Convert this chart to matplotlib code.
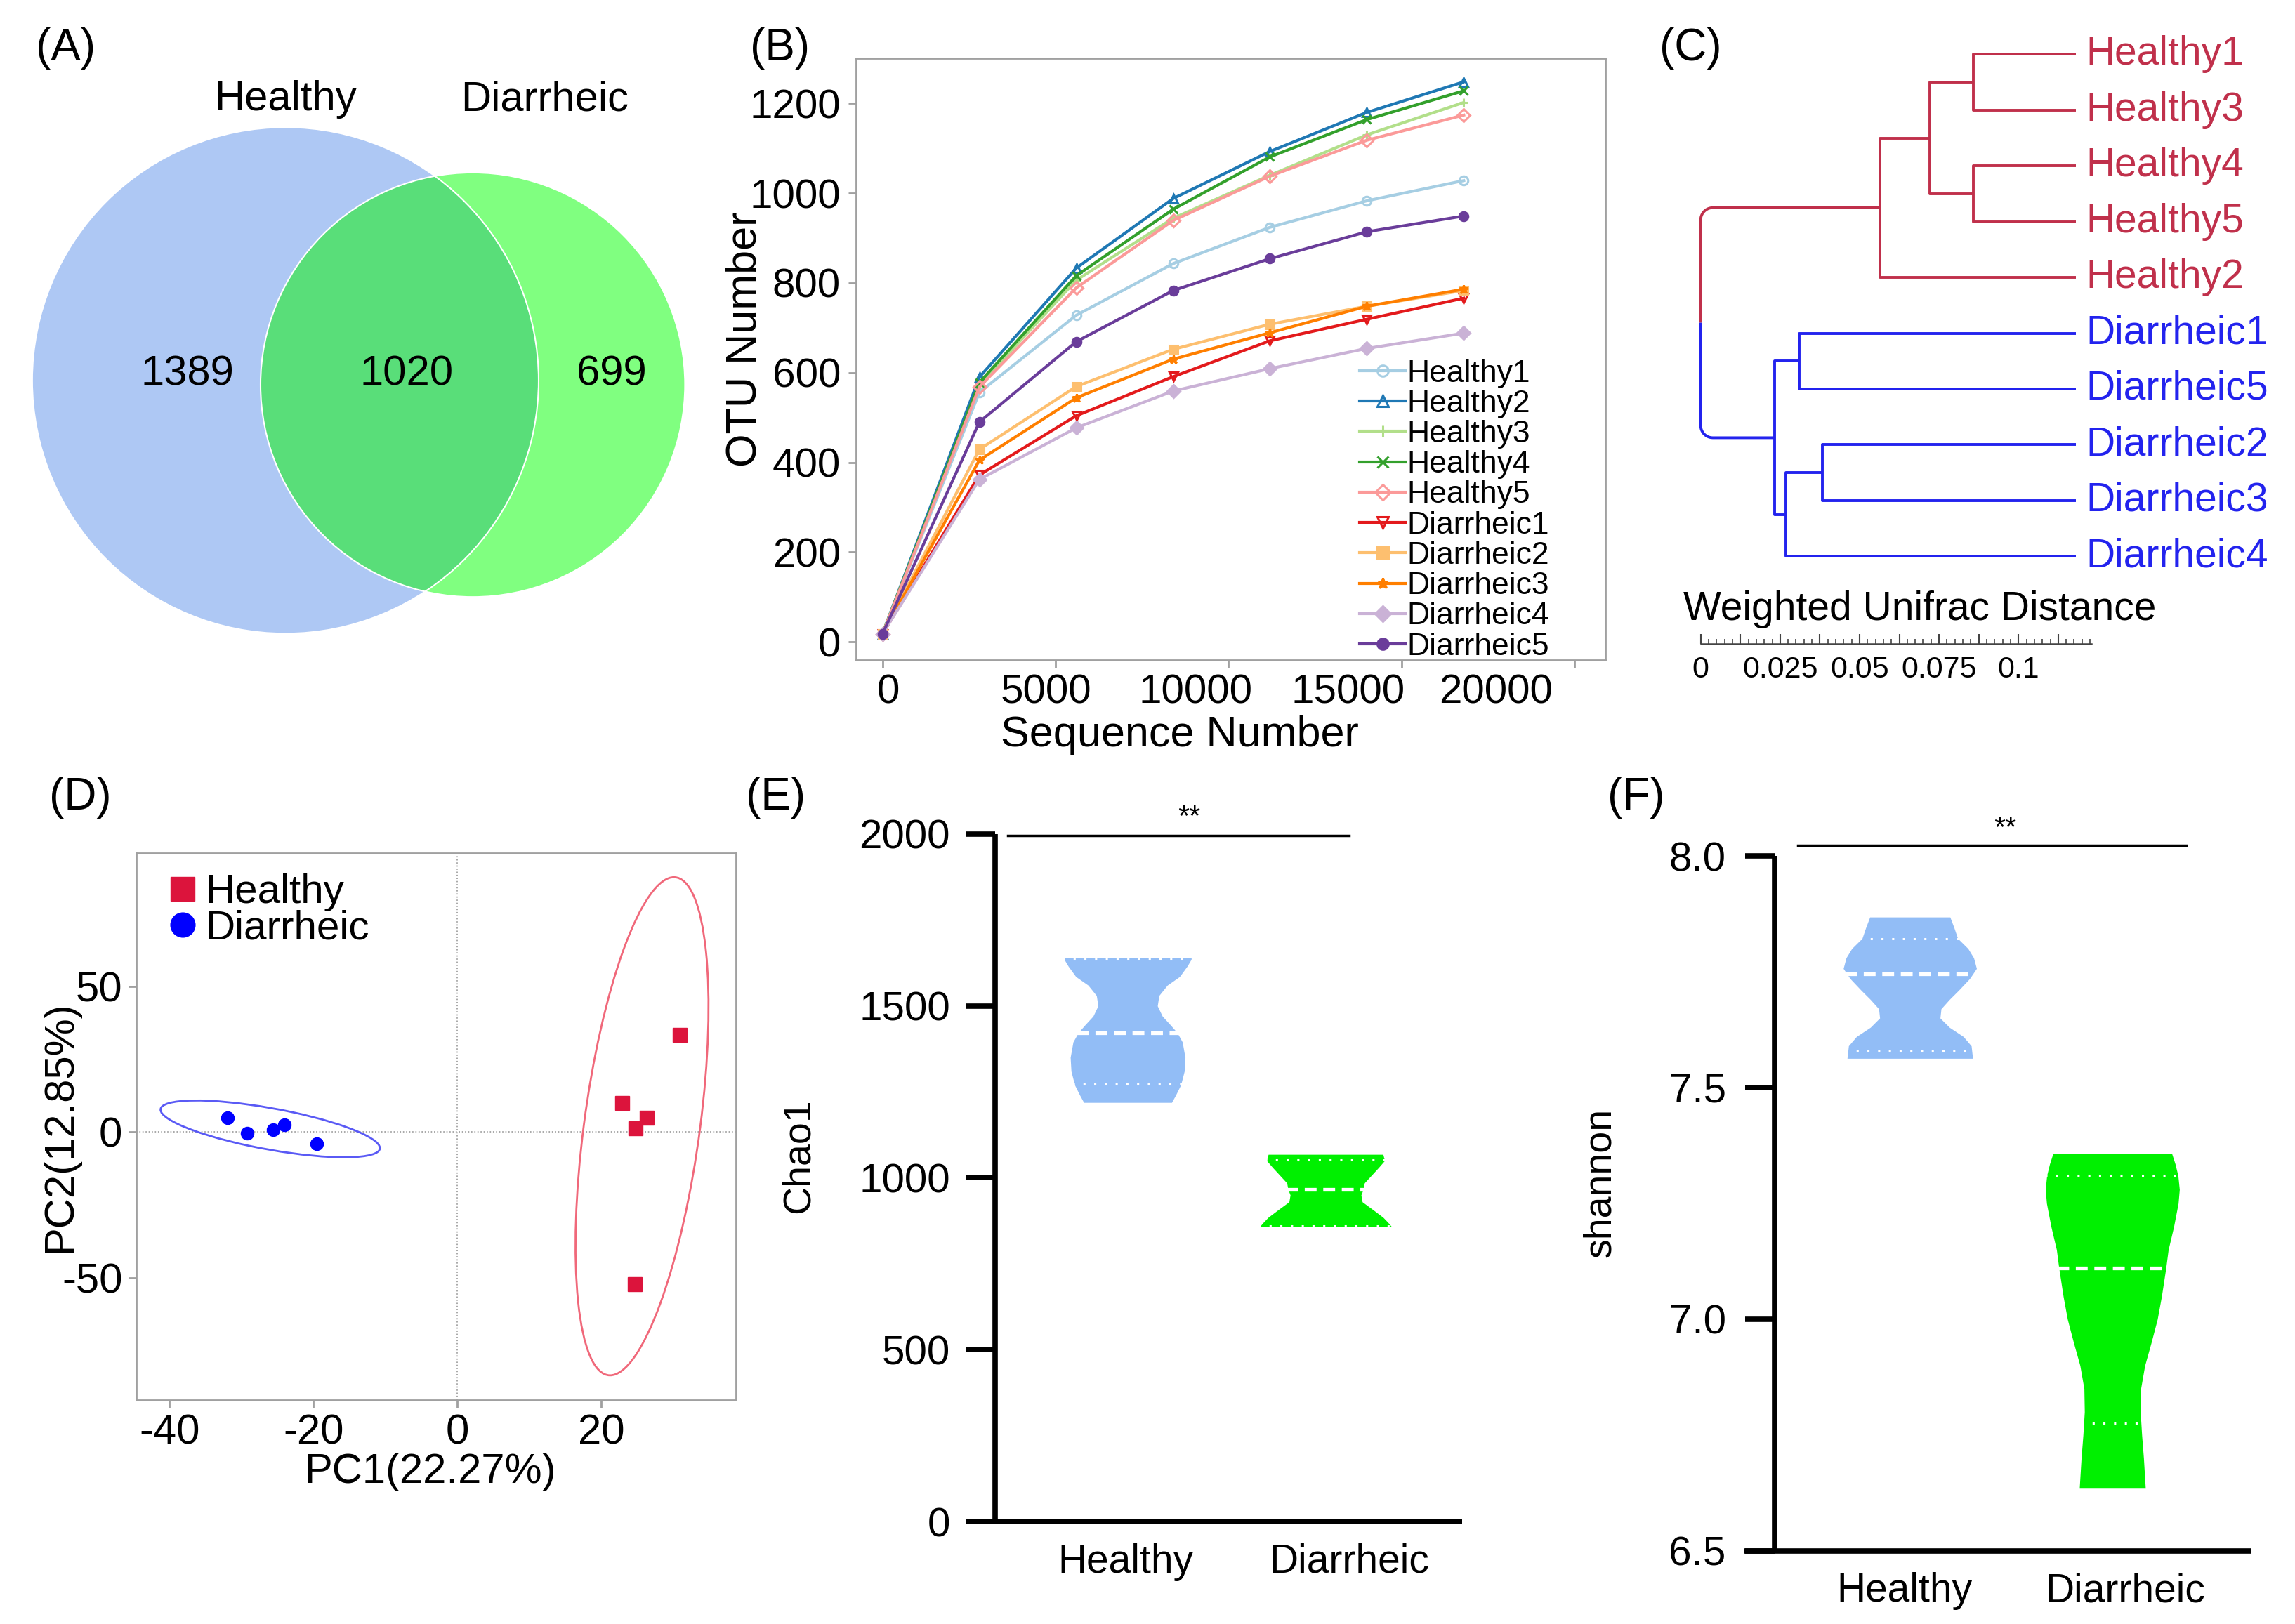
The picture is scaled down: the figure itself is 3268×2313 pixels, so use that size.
import matplotlib
matplotlib.use('Agg')
import matplotlib.pyplot as plt
import matplotlib.transforms as mtransforms
import numpy as np
from matplotlib.patches import Circle, Ellipse
from matplotlib.lines import Line2D
from matplotlib.ticker import FixedLocator

plt.rcParams['font.family'] = ['Liberation Sans', 'DejaVu Sans']
plt.rcParams['axes.unicode_minus'] = False

# ---------------- data ----------------
# (A) venn
venn_sets = ['Healthy', 'Diarrheic']
venn_counts = [1389, 1020, 699]   # only healthy, shared, only diarrheic

# (B) rarefaction curves
seq_number = [0, 2800, 5600, 8400, 11200, 14000, 16800]
otu_healthy1 = [18, 556, 728, 843, 924, 983, 1028]
otu_healthy2 = [18, 590, 833, 988, 1093, 1180, 1248]
otu_healthy3 = [18, 573, 806, 944, 1040, 1130, 1202]
otu_healthy4 = [18, 578, 816, 964, 1081, 1164, 1228]
otu_healthy5 = [18, 568, 789, 939, 1038, 1118, 1174]
otu_diarrheic1 = [18, 372, 504, 591, 671, 719, 766]
otu_diarrheic2 = [18, 429, 569, 652, 708, 748, 783]
otu_diarrheic3 = [18, 405, 544, 630, 689, 748, 786]
otu_diarrheic4 = [18, 362, 477, 559, 609, 654, 688]
otu_diarrheic5 = [18, 490, 669, 783, 854, 914, 949]
curve_names = ['Healthy1', 'Healthy2', 'Healthy3', 'Healthy4', 'Healthy5',
               'Diarrheic1', 'Diarrheic2', 'Diarrheic3', 'Diarrheic4', 'Diarrheic5']
curve_values = [otu_healthy1, otu_healthy2, otu_healthy3, otu_healthy4, otu_healthy5,
                otu_diarrheic1, otu_diarrheic2, otu_diarrheic3, otu_diarrheic4, otu_diarrheic5]
curve_colors = ['#a6cee3', '#1f78b4', '#b2df8a', '#33a02c', '#fb9a99',
                '#e31a1c', '#fdbf6f', '#ff7f00', '#cab2d6', '#6a3d9a']
curve_markers = ['o', '^', '+', 'x', 'D', 'v', 's', '*', 'D', 'o']
curve_filled = [False, False, True, True, False, False, True, True, True, True]
seq_ticklabels = ['0', '5000', '10000', '15000', '20000']

# (C) weighted unifrac tree (depth measured from the root)
leaf_order = ['Healthy1', 'Healthy3', 'Healthy4', 'Healthy5', 'Healthy2',
              'Diarrheic1', 'Diarrheic5', 'Diarrheic2', 'Diarrheic3', 'Diarrheic4']
leaf_depth = 0.118
merges = [('Healthy1', 'Healthy3', 0.0857),
          ('Healthy4', 'Healthy5', 0.0857),
          ('n0', 'n1', 0.0720),
          ('n2', 'Healthy2', 0.0564),
          ('Diarrheic1', 'Diarrheic5', 0.0310),
          ('Diarrheic2', 'Diarrheic3', 0.0384),
          ('n5', 'Diarrheic4', 0.0267),
          ('n4', 'n6', 0.0232),
          ('n3', 'n7', 0.0)]

# (D) PCoA
pc1_healthy = [31.0, 22.9, 26.4, 24.8, 24.7]
pc2_healthy = [33.4, 10.0, 4.8, 1.3, -52.3]
pc1_diarrheic = [-31.9, -29.2, -25.6, -24.0, -19.5]
pc2_diarrheic = [4.8, -0.5, 0.8, 2.4, -4.0]
# confidence ellipses: centre x, centre y, semi major, semi minor, angle
ellipse_healthy = [25.7, 2.0, 85.6, 8.1, 87.0]
ellipse_diarrheic = [-26.0, 1.1, 16.9, 6.5, -27.8]

# (E) chao1 violin outlines (value, half width)
chao_h_vals = [1219, 1240, 1270, 1310, 1350, 1395, 1422, 1445, 1470, 1500, 1530, 1560, 1585, 1615, 1641]
chao_h_half = [0.222, 0.242, 0.268, 0.286, 0.290, 0.276, 0.250, 0.215, 0.175, 0.150, 0.158, 0.200, 0.262, 0.300, 0.327]
chao_d_vals = [858, 870, 885, 905, 930, 950, 966, 985, 1000, 1030, 1050, 1068]
chao_d_half = [0.333, 0.315, 0.290, 0.244, 0.185, 0.179, 0.190, 0.196, 0.220, 0.268, 0.298, 0.290]
chao_quart = [[1272, 1422, 1635], [861, 966, 1052]]   # q1, median, q3

# (F) shannon violin outlines
shan_h_vals = [7.563, 7.59, 7.61, 7.63, 7.65, 7.67, 7.69, 7.71, 7.735, 7.757, 7.78, 7.80, 7.822, 7.845, 7.868]
shan_h_half = [0.310, 0.303, 0.264, 0.195, 0.149, 0.154, 0.195, 0.241, 0.295, 0.329, 0.315, 0.287, 0.236, 0.218, 0.198]
shan_d_vals = [6.635, 6.70, 6.75, 6.80, 6.85, 6.90, 6.95, 7.00, 7.05, 7.11, 7.15, 7.20, 7.25, 7.28, 7.31, 7.335, 7.358]
shan_d_half = [0.163, 0.154, 0.145, 0.138, 0.140, 0.160, 0.192, 0.222, 0.243, 0.264, 0.276, 0.303, 0.325, 0.331, 0.324, 0.310, 0.293]
shan_quart = [[7.578, 7.745, 7.821], [6.776, 7.11, 7.311]]
groups = ['Healthy', 'Diarrheic']
violin_colors = ['#92bdf6', '#00f000']

# ---------------- layout helpers ----------------
W, H = 1568.0, 1110.0


def place(l, t, r, b):
    return [l / W, 1 - b / H, (r - l) / W, (b - t) / H]


fig = plt.figure(figsize=(32.68, 23.13), dpi=100)

for lab, x, y in [('(A)', 45, 33), ('(B)', 533, 33), ('(C)', 1155, 33),
                  ('(D)', 55, 545), ('(E)', 530, 545), ('(F)', 1118, 545)]:
    fig.text(x / W, 1 - y / H, lab, fontsize=46, ha='center', va='center')

# ---------------- (A) venn ----------------
axA = fig.add_axes(place(0, 20, 490, 450))
axA.set_xlim(0, 490)
axA.set_ylim(450, 20)
axA.axis('off')
cL = Circle((195, 260), 173, fc='#aec8f4', ec='none')
cR = Circle((323, 263), 145, fc='#80ff80', ec='none')
axA.add_patch(cL)
axA.add_patch(cR)
cI = Circle((323, 263), 145, fc='#59de79', ec='none')
axA.add_patch(cI)
cI.set_clip_path(cL)
axA.add_patch(Circle((195, 260), 173, fc='none', ec='white', lw=1.5))
axA.add_patch(Circle((323, 263), 145, fc='none', ec='white', lw=1.5))
axA.text(195, 68, venn_sets[0], ha='center', va='center', fontsize=43)
axA.text(372, 68, venn_sets[1], ha='center', va='center', fontsize=43)
for x, n in zip([128, 278, 418], venn_counts):
    axA.text(x, 256, str(n), ha='center', va='center', fontsize=43)

# ---------------- (B) rarefaction ----------------
axB = fig.add_axes(place(585, 40, 1097, 451))
for name, vals, col, mk, fill in zip(curve_names, curve_values, curve_colors,
                                     curve_markers, curve_filled):
    axB.plot(seq_number, vals, color=col, lw=3, marker=mk, ms=9, mew=2.2,
             mfc=col if fill else 'none', mec=col, label=name)
axB.set_xlim(-760, 20900)
axB.set_ylim(-40, 1300)
axB.set_yticks([0, 200, 400, 600, 800, 1000, 1200])
axB.xaxis.set_minor_locator(FixedLocator([0, 5000, 10000, 15000, 20000]))
axB.set_xticks([170, 4730, 9050, 13450, 17730])
axB.set_xticklabels(seq_ticklabels)
axB.tick_params(axis='x', which='major', length=0, labelsize=42, pad=14)
axB.tick_params(axis='x', which='minor', length=8, width=2, color='#a0a0a0')
axB.tick_params(axis='y', length=8, width=2, color='#a0a0a0', labelsize=42, pad=8)
for s in axB.spines.values():
    s.set_color('#a0a0a0')
    s.set_linewidth(2)
axB.set_ylabel('OTU Number', fontsize=44)
axB.yaxis.set_label_coords(-0.122, 0.533)
axB.set_xlabel('Sequence Number', fontsize=44)
axB.xaxis.set_label_coords(0.432, -0.092)
axB.legend(loc='upper left', bbox_to_anchor=(0.672, 0.50), frameon=False,
           fontsize=32, handlelength=1.45, handletextpad=0.05, labelspacing=0.05,
           borderpad=0, borderaxespad=0, markerscale=1.25)

# ---------------- (C) dendrogram ----------------
axC = fig.add_axes(place(1140, 20, 1568, 440))
axC.set_xlim(-0.0101, 0.187)
axC.set_ylim(10.57, -0.45)
red_c, blue_c = '#c0304b', '#2323ee'
ypos = {n: i for i, n in enumerate(leaf_order)}
xpos = {n: leaf_depth for n in leaf_order}
grp = {n: (red_c if n.startswith('Healthy') else blue_c) for n in leaf_order}
rx, ry = 0.0038, 0.22   # corner rounding used at the root
t = np.linspace(0, np.pi / 2, 12)
for k, (a, b, d) in enumerate(merges):
    node = 'n%d' % k
    mid = (ypos[a] + ypos[b]) / 2
    for c, sgn in [(a, -1), (b, 1)]:
        if d == 0:
            # rounded elbow
            xs = np.concatenate([[xpos[c]], d + rx - rx * np.sin(t), [d]])
            ys = np.concatenate([[ypos[c]], ypos[c] - sgn * (ry - ry * np.cos(t)), [mid]])
        else:
            xs = [xpos[c], d, d]
            ys = [ypos[c], ypos[c], mid]
        axC.plot(xs, ys, color=grp[c], lw=2.8, solid_capstyle='butt')
    xpos[node] = d
    ypos[node] = mid
    grp[node] = grp[a] if grp[a] == grp[b] else 'k'
for n in leaf_order:
    axC.text(leaf_depth + 0.0032, ypos[n], n, color=grp[n], fontsize=41,
             va='center', ha='left')
axC.text(-0.0055, 9.95, 'Weighted Unifrac Distance', fontsize=41, va='center', ha='left')
for s in ['top', 'right', 'left']:
    axC.spines[s].set_visible(False)
axC.spines['bottom'].set_bounds(0, 0.123)
axC.spines['bottom'].set_linewidth(1.8)
axC.spines['bottom'].set_color('#444444')
axC.set_yticks([])
axC.set_xticks(np.arange(0, 0.123, 0.0125))
axC.set_xticklabels(['0', '', '0.025', '', '0.05', '', '0.075', '', '0.1', ''])
axC.xaxis.set_minor_locator(FixedLocator(np.arange(0, 0.1226, 0.0025)))
axC.tick_params(axis='x', which='major', direction='in', length=10, width=1.5,
                color='#444444', labelsize=31, pad=12)
axC.tick_params(axis='x', which='minor', direction='in', length=5, width=1.2,
                color='#444444')
axC.patch.set_visible(False)

# ---------------- (D) PCoA ----------------
axD = fig.add_axes(place(93, 583, 503, 957))
axD.axhline(0, color='#9a9a9a', lw=1.2, ls=':', zorder=0)
axD.axvline(0, color='#9a9a9a', lw=1.2, ls=':', zorder=0)
ex, ey, ea, eb, eang = ellipse_healthy
axD.add_patch(Ellipse((ex, ey), 2 * ea, 2 * eb, angle=eang, fc='none', ec='#f0687a', lw=2))
ex, ey, ea, eb, eang = ellipse_diarrheic
axD.add_patch(Ellipse((ex, ey), 2 * ea, 2 * eb, angle=eang, fc='none', ec='#5a5af5', lw=2))
axD.plot(pc1_healthy, pc2_healthy, ls='none', marker='s', ms=14, color='#dc143c')
axD.plot(pc1_diarrheic, pc2_diarrheic, ls='none', marker='o', ms=13, color='#0000ff')
axD.set_xlim(-44.65, 38.8)
axD.set_ylim(-92, 95.8)
axD.set_xticks([-40, -20, 0, 20])
axD.set_yticks([-50, 0, 50])
axD.tick_params(length=8, width=2, color='#a0a0a0', labelsize=43, pad=6)
for s in axD.spines.values():
    s.set_color('#a0a0a0')
    s.set_linewidth(2)
axD.set_xlabel('PC1(22.27%)', fontsize=43)
axD.xaxis.set_label_coords(0.49, -0.096)
axD.set_ylabel('PC2(12.85%)', fontsize=43)
axD.yaxis.set_label_coords(-0.095, 0.5)
hD = [Line2D([], [], ls='none', marker='s', ms=25, color='#dc143c'),
      Line2D([], [], ls='none', marker='o', ms=25, color='#0000ff')]
axD.legend(hD, groups, loc='upper left', bbox_to_anchor=(0.05, 0.962), frameon=False,
           fontsize=42, handlelength=0.8, handletextpad=0.15, labelspacing=-0.05,
           borderpad=0, borderaxespad=0)


# ---------------- (E), (F) violins ----------------
def violin(ax, pos, vals, half, col, quart):
    vals = np.array(vals, dtype=float)
    half = np.array(half)
    ax.fill_betweenx(vals, pos - half, pos + half, color=col, lw=0)
    q1, med, q3 = quart
    for q, ls, lw in [(q1, (0, (1, 4)), 2.2), (q3, (0, (1, 4)), 2.2),
                      (med, (0, (3.2, 1.8)), 3.8)]:
        w = np.interp(q, vals, half) + 0.01
        ax.plot([pos - w, pos + w], [q, q], color='white', ls=ls, lw=lw,
                solid_capstyle='butt', dash_capstyle='butt')


def style_violin_axes(ax, spine_x, xlim, ylim, yticks, ylabel, lab_xy, tick_pad, shifts):
    ax.set_xlim(*xlim)
    ax.set_ylim(*ylim)
    for s in ['top', 'right']:
        ax.spines[s].set_visible(False)
    ax.spines['left'].set_position(('data', spine_x))
    ax.spines['left'].set_bounds(ylim[0], ylim[1])
    for s in ['left', 'bottom']:
        ax.spines[s].set_linewidth(5.5)
        ax.spines[s].set_capstyle('butt')
    ax.set_yticks(yticks)
    ax.tick_params(axis='y', length=30, width=5.5, labelsize=42, pad=tick_pad)
    ax.set_xticks([1, 2])
    ax.set_xticklabels(groups)
    ax.tick_params(axis='x', length=0, labelsize=41, pad=22)
    # category labels sit slightly off the violin centres in the original
    for lbl, dx in zip(ax.get_xticklabels(), shifts):
        lbl.set_transform(lbl.get_transform() +
                          mtransforms.ScaledTranslation(dx, 0, fig.dpi_scale_trans))
    ax.set_ylabel(ylabel, fontsize=40)
    ax.yaxis.set_label_coords(*lab_xy)
    ax.patch.set_visible(False)


axE = fig.add_axes(place(660, 570, 999, 1040))
violin(axE, 1, chao_h_vals, chao_h_half, violin_colors[0], chao_quart[0])
violin(axE, 2, chao_d_vals, chao_d_half, violin_colors[1], chao_quart[1])
style_violin_axes(axE, 0.329, (0.183, 2.69), (0, 2000), [0, 500, 1000, 1500, 2000],
                  'Chao1', (-0.30, 0.532), 16, [-0.03, 0.34])
axE.plot([0.393, 2.12], [1995, 1995], color='k', lw=2.5, clip_on=False)
axE.text(1.31, 2005, '**', ha='center', va='bottom', fontsize=30)

axF = fig.add_axes(place(1192, 585, 1538, 1060))
violin(axF, 1, shan_h_vals, shan_h_half, violin_colors[0], shan_quart[0])
violin(axF, 2, shan_d_vals, shan_d_half, violin_colors[1], shan_quart[1])
style_violin_axes(axF, 0.333, (0.184, 2.685), (6.5, 8.0), [6.5, 7.0, 7.5, 8.0],
                  'shannon', (-0.249, 0.53), 20, [-0.08, 0.18])
axF.set_yticklabels(['6.5', '7.0', '7.5', '8.0'])
axF.plot([0.448, 2.363], [8.023, 8.023], color='k', lw=2.5, clip_on=False)
axF.text(1.47, 8.027, '**', ha='center', va='bottom', fontsize=30)

fig.savefig('out.png', dpi=100)
